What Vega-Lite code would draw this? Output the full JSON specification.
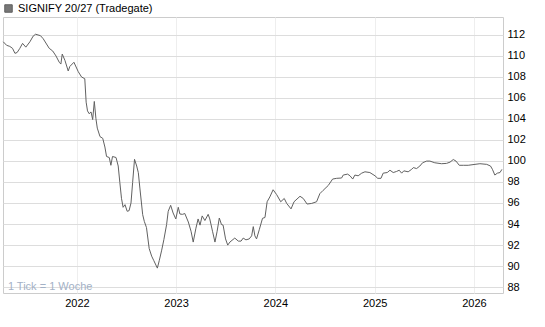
{
  "$schema": "https://vega.github.io/schema/vega-lite/v6.json",
  "width": 500,
  "height": 276,
  "autosize": {"type": "none"},
  "padding": {"left": 3, "top": 17, "right": 42, "bottom": 34},
  "background": "white",
  "config": {
    "font": "Liberation Sans",
    "view": {"stroke": "#cccccc", "strokeWidth": 1},
    "axis": {"labelFont": "Liberation Sans", "labelFontSize": 11, "labelColor": "#000000", "domain": false, "ticks": false}
  },
  "datasets": {
    "series": [
      {"date": "2021-04-05", "price": 111.35},
      {"date": "2021-04-17", "price": 111.02},
      {"date": "2021-04-29", "price": 110.91},
      {"date": "2021-05-09", "price": 110.73},
      {"date": "2021-05-18", "price": 110.25},
      {"date": "2021-05-26", "price": 110.33},
      {"date": "2021-06-05", "price": 110.73},
      {"date": "2021-06-15", "price": 111.2},
      {"date": "2021-06-27", "price": 110.84},
      {"date": "2021-07-12", "price": 111.35},
      {"date": "2021-07-24", "price": 111.89},
      {"date": "2021-08-02", "price": 112.07},
      {"date": "2021-08-20", "price": 111.93},
      {"date": "2021-08-30", "price": 111.64},
      {"date": "2021-09-21", "price": 110.73},
      {"date": "2021-10-04", "price": 110.47},
      {"date": "2021-10-16", "price": 110.0},
      {"date": "2021-10-28", "price": 109.4},
      {"date": "2021-11-03", "price": 109.23},
      {"date": "2021-11-08", "price": 110.18},
      {"date": "2021-11-18", "price": 109.57},
      {"date": "2021-11-30", "price": 108.57},
      {"date": "2021-12-06", "price": 109.0},
      {"date": "2021-12-21", "price": 109.4},
      {"date": "2022-01-06", "price": 108.5},
      {"date": "2022-01-18", "price": 108.0},
      {"date": "2022-01-30", "price": 107.83},
      {"date": "2022-02-04", "price": 105.6},
      {"date": "2022-02-09", "price": 104.77},
      {"date": "2022-02-15", "price": 104.5},
      {"date": "2022-02-22", "price": 104.67},
      {"date": "2022-02-28", "price": 103.94},
      {"date": "2022-03-06", "price": 105.67},
      {"date": "2022-03-12", "price": 104.03},
      {"date": "2022-03-17", "price": 103.13},
      {"date": "2022-03-27", "price": 102.32},
      {"date": "2022-04-06", "price": 102.16},
      {"date": "2022-04-14", "price": 101.33},
      {"date": "2022-04-20", "price": 100.43},
      {"date": "2022-04-30", "price": 100.33},
      {"date": "2022-05-06", "price": 99.59},
      {"date": "2022-05-12", "price": 100.43},
      {"date": "2022-05-25", "price": 100.33},
      {"date": "2022-06-02", "price": 99.52},
      {"date": "2022-06-08", "price": 97.94},
      {"date": "2022-06-14", "price": 96.45},
      {"date": "2022-06-20", "price": 95.59},
      {"date": "2022-06-27", "price": 95.84},
      {"date": "2022-07-05", "price": 95.21},
      {"date": "2022-07-12", "price": 95.27},
      {"date": "2022-07-19", "price": 96.0},
      {"date": "2022-07-25", "price": 97.94},
      {"date": "2022-08-01", "price": 100.16},
      {"date": "2022-08-09", "price": 99.52},
      {"date": "2022-08-15", "price": 98.89},
      {"date": "2022-08-21", "price": 97.34},
      {"date": "2022-08-31", "price": 94.89},
      {"date": "2022-09-06", "price": 94.25},
      {"date": "2022-09-14", "price": 93.66},
      {"date": "2022-09-24", "price": 91.66},
      {"date": "2022-10-03", "price": 90.94},
      {"date": "2022-10-11", "price": 90.51},
      {"date": "2022-10-24", "price": 89.8},
      {"date": "2022-10-31", "price": 90.51},
      {"date": "2022-11-09", "price": 91.51},
      {"date": "2022-11-17", "price": 92.51},
      {"date": "2022-11-27", "price": 93.94},
      {"date": "2022-12-03", "price": 95.21},
      {"date": "2022-12-12", "price": 95.78},
      {"date": "2022-12-21", "price": 95.05},
      {"date": "2022-12-31", "price": 94.48},
      {"date": "2023-01-09", "price": 95.59},
      {"date": "2023-01-15", "price": 94.95},
      {"date": "2023-01-25", "price": 94.92},
      {"date": "2023-02-02", "price": 95.0},
      {"date": "2023-02-15", "price": 94.19},
      {"date": "2023-02-25", "price": 93.31},
      {"date": "2023-03-05", "price": 92.28},
      {"date": "2023-03-15", "price": 93.6},
      {"date": "2023-03-23", "price": 94.48},
      {"date": "2023-03-30", "price": 93.89},
      {"date": "2023-04-07", "price": 94.77},
      {"date": "2023-04-17", "price": 94.33},
      {"date": "2023-04-29", "price": 94.92},
      {"date": "2023-05-05", "price": 94.48},
      {"date": "2023-05-15", "price": 93.31},
      {"date": "2023-05-24", "price": 92.28},
      {"date": "2023-06-01", "price": 93.31},
      {"date": "2023-06-09", "price": 94.57},
      {"date": "2023-06-17", "price": 93.95},
      {"date": "2023-06-23", "price": 93.89},
      {"date": "2023-07-02", "price": 92.58},
      {"date": "2023-07-10", "price": 91.99},
      {"date": "2023-07-18", "price": 92.28},
      {"date": "2023-08-05", "price": 92.66},
      {"date": "2023-08-18", "price": 92.37},
      {"date": "2023-08-28", "price": 92.37},
      {"date": "2023-09-05", "price": 92.66},
      {"date": "2023-09-15", "price": 92.49},
      {"date": "2023-09-27", "price": 92.58},
      {"date": "2023-10-06", "price": 92.87},
      {"date": "2023-10-12", "price": 93.75},
      {"date": "2023-10-18", "price": 92.87},
      {"date": "2023-10-24", "price": 92.58},
      {"date": "2023-11-03", "price": 93.45},
      {"date": "2023-11-15", "price": 94.54},
      {"date": "2023-11-24", "price": 94.62},
      {"date": "2023-12-02", "price": 96.12},
      {"date": "2023-12-12", "price": 96.58},
      {"date": "2023-12-24", "price": 97.26},
      {"date": "2024-01-06", "price": 96.8},
      {"date": "2024-01-21", "price": 96.12},
      {"date": "2024-02-03", "price": 96.43},
      {"date": "2024-02-12", "price": 95.96},
      {"date": "2024-02-28", "price": 95.44},
      {"date": "2024-03-10", "price": 96.12},
      {"date": "2024-04-01", "price": 96.64},
      {"date": "2024-04-13", "price": 96.43},
      {"date": "2024-04-27", "price": 95.9},
      {"date": "2024-05-14", "price": 95.96},
      {"date": "2024-06-01", "price": 96.12},
      {"date": "2024-06-13", "price": 96.89},
      {"date": "2024-06-25", "price": 97.2},
      {"date": "2024-07-14", "price": 97.67},
      {"date": "2024-07-30", "price": 98.28},
      {"date": "2024-08-14", "price": 98.35},
      {"date": "2024-09-01", "price": 98.38},
      {"date": "2024-09-07", "price": 98.66},
      {"date": "2024-09-23", "price": 98.75},
      {"date": "2024-10-02", "price": 98.59},
      {"date": "2024-10-12", "price": 98.28},
      {"date": "2024-10-20", "price": 98.66},
      {"date": "2024-11-01", "price": 98.59},
      {"date": "2024-11-14", "price": 98.84},
      {"date": "2024-11-26", "price": 98.97},
      {"date": "2024-12-14", "price": 98.9},
      {"date": "2025-01-02", "price": 98.59},
      {"date": "2025-01-12", "price": 98.35},
      {"date": "2025-01-24", "price": 98.35},
      {"date": "2025-02-01", "price": 98.84},
      {"date": "2025-02-16", "price": 98.9},
      {"date": "2025-02-26", "price": 99.12},
      {"date": "2025-03-10", "price": 98.9},
      {"date": "2025-03-22", "price": 99.0},
      {"date": "2025-04-01", "price": 99.12},
      {"date": "2025-04-10", "price": 98.84},
      {"date": "2025-04-18", "price": 99.06},
      {"date": "2025-05-04", "price": 98.97},
      {"date": "2025-05-17", "price": 99.21},
      {"date": "2025-05-23", "price": 99.37},
      {"date": "2025-06-04", "price": 99.28},
      {"date": "2025-06-16", "price": 99.52},
      {"date": "2025-06-26", "price": 99.83},
      {"date": "2025-07-11", "price": 99.99},
      {"date": "2025-07-23", "price": 99.99},
      {"date": "2025-08-10", "price": 99.83},
      {"date": "2025-09-04", "price": 99.74},
      {"date": "2025-09-22", "price": 99.77},
      {"date": "2025-10-05", "price": 99.89},
      {"date": "2025-10-17", "price": 100.14},
      {"date": "2025-10-27", "price": 99.99},
      {"date": "2025-11-08", "price": 99.59},
      {"date": "2025-11-23", "price": 99.59},
      {"date": "2025-12-11", "price": 99.59},
      {"date": "2026-01-05", "price": 99.68},
      {"date": "2026-01-23", "price": 99.74},
      {"date": "2026-02-17", "price": 99.68},
      {"date": "2026-03-03", "price": 99.52},
      {"date": "2026-03-10", "price": 99.21},
      {"date": "2026-03-19", "price": 98.66},
      {"date": "2026-03-28", "price": 98.84},
      {"date": "2026-04-07", "price": 98.9},
      {"date": "2026-04-14", "price": 99.2}
    ],
    "note": [
      {"date": "2021-04-22", "price": 88, "label": "1 Tick = 1 Woche"}
    ]
  },
  "layer": [
    {
      "data": {"name": "series"},
      "mark": {"type": "line", "strokeWidth": 1, "interpolate": "linear", "color": "#616161"},
      "encoding": {
        "x": {
          "field": "date", "type": "temporal",
          "scale": {"domain": ["2021-04-04", "2026-04-18"], "nice": false},
          "axis": {
            "title": null, "format": "%Y", "labelPadding": 4, "labelAlign": "center", "labelOverlap": false,
            "values": [{"year": 2022, "month": 1, "date": 1}, {"year": 2023, "month": 1, "date": 1}, {"year": 2024, "month": 1, "date": 1}, {"year": 2025, "month": 1, "date": 1}, {"year": 2026, "month": 1, "date": 1}],
            "grid": true, "gridColor": "#eeeeee", "gridWidth": 1
          }
        },
        "y": {
          "field": "price", "type": "quantitative",
          "scale": {"domain": [87.43, 113.71], "nice": false, "zero": false},
          "axis": {
            "title": null, "orient": "right", "values": [88, 90, 92, 94, 96, 98, 100, 102, 104, 106, 108, 110, 112],
            "labelOverlap": false, "labelFlush": false, "labelBound": false, "tickCount": 13,
            "labelPadding": 4, "grid": true, "gridColor": "#dddddd", "gridWidth": 1
          }
        },
        "color": {
          "datum": "SIGNIFY 20/27 (Tradegate)",
          "scale": {"range": ["#616161"]},
          "legend": {
            "title": null, "orient": "none", "legendX": 0, "legendY": -14, "padding": 0,
            "symbolType": "square", "symbolSize": 56, "labelFontSize": 11, "labelColor": "#000000",
            "labelFont": "Liberation Sans", "labelOffset": 4,
            "encode": {"symbols": {"update": {"fill": {"value": "#777777"}, "stroke": {"value": "#333333"}, "strokeWidth": {"value": 1}, "opacity": {"value": 1}}}}
          }
        }
      }
    },
    {
      "data": {"name": "note"},
      "mark": {"type": "text", "align": "left", "baseline": "middle", "fontSize": 11, "color": "#a3b1c6", "font": "Liberation Sans"},
      "encoding": {
        "x": {"field": "date", "type": "temporal"},
        "y": {"field": "price", "type": "quantitative"},
        "text": {"field": "label"}
      }
    }
  ]
}
